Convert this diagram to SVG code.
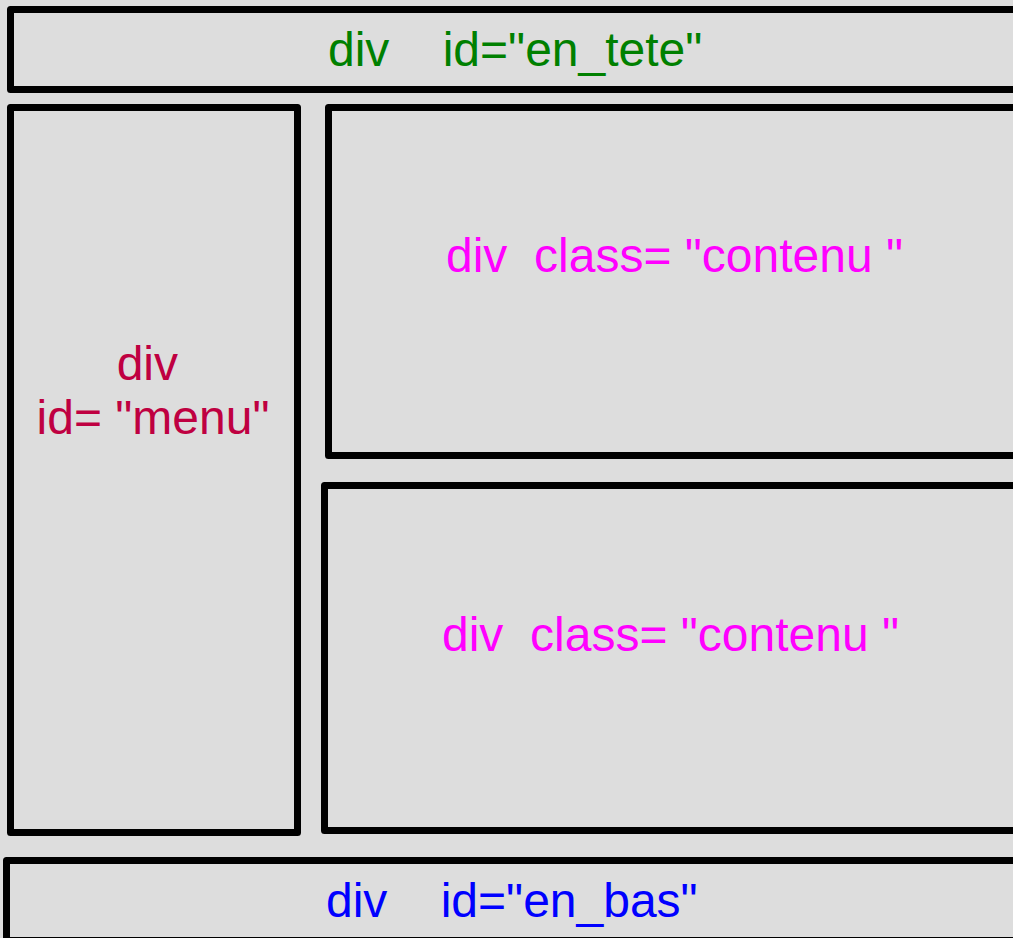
<svg xmlns="http://www.w3.org/2000/svg" width="1013" height="938" viewBox="0 0 1013 938">
<style>
.box{fill:#dddddd;stroke:#000;stroke-width:7;stroke-linejoin:round}
.t{font-family:"Liberation Sans",Arial,sans-serif;font-size:48px;white-space:pre}
</style>
<rect width="1013" height="938" fill="#dddddd"/>
<g id="en_tete">
<rect class="box" x="10.5" y="9.5" width="1020" height="80"/>
<text class="t" x="328" y="66" fill="#008000" xml:space="preserve">div    id="en_tete"</text>
</g>
<g id="menu">
<rect class="box" x="10.5" y="107.5" width="287" height="725"/>
<text class="t" x="154" y="380" fill="#bf0041" text-anchor="middle" xml:space="preserve">div </text>
<text class="t" x="153" y="434" fill="#bf0041" text-anchor="middle" xml:space="preserve">id= "menu"</text>
</g>
<g id="contenu1">
<rect class="box" x="328.5" y="107.5" width="700" height="348"/>
<text class="t" x="446" y="272" fill="#ff00ff" xml:space="preserve">div  class= "contenu "</text>
</g>
<g id="contenu2">
<rect class="box" x="324.5" y="485.5" width="700" height="345"/>
<text class="t" x="442" y="651" fill="#ff00ff" xml:space="preserve">div  class= "contenu "</text>
</g>
<g id="en_bas">
<rect class="box" x="6.5" y="860.5" width="1020" height="80"/>
<text class="t" x="326" y="917" fill="#0000ff" xml:space="preserve">div    id="en_bas"</text>
</g>
<g id="connectors"/>
</svg>
